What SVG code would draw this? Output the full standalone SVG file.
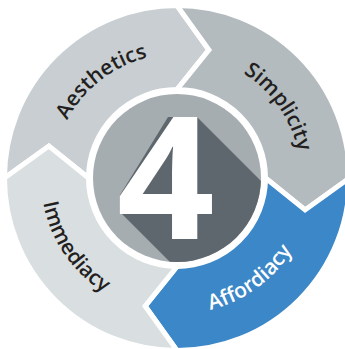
<svg xmlns="http://www.w3.org/2000/svg" width="345" height="349" viewBox="0 0 345 349">
  <style>
    .seg { stroke: #ffffff; stroke-width: 5; stroke-linejoin: miter; stroke-miterlimit: 10; }
    .lbl { font-family: "Open Sans", "Noto Sans", "Liberation Sans", sans-serif; font-size: 21px; font-weight: 600; fill: #231f20; }
    .big { font-family: "Open Sans", "Liberation Sans", sans-serif; font-weight: 700; font-size: 171px; fill: #ffffff; }
  </style>
  <defs>
    <clipPath id="hub"><circle cx="177" cy="178" r="84"/></clipPath>
    <path id="pA" d="M73.0,245.53 A124,124 0 0 1 267.69,93.43"/>
    <path id="pS" d="M115,70.61 A124,124 0 0 1 256.70,272.99"/>
    <path id="pF" d="M74.36,267.23 A136,136 0 0 0 293.58,107.96"/>
    <path id="pI" d="M91.42,72.31 A136,136 0 0 0 242.93,296.95"/>
  </defs>
  <rect width="345" height="349" fill="#ffffff"/>
  <g id="aesthetics">
    <path class="seg" fill="#c8ced1" d="M4.5,178 A172.5,172.5 0 0 1 177,5.5 L208.93,49.92 L177,89.5 A88.5,88.5 0 0 0 88.5,178 L48.92,146.07 Z"/>
    <text class="lbl"><textPath href="#pA" startOffset="50%" text-anchor="middle">Aesthetics</textPath></text>
  </g>
  <g id="simplicity">
    <path class="seg" fill="#b3bbbf" d="M177,5.5 A172.5,172.5 0 0 1 349.5,178 L305.08,209.93 L265.5,178 A88.5,88.5 0 0 0 177,89.5 L208.93,49.92 Z"/>
    <text class="lbl"><textPath href="#pS" startOffset="50%" text-anchor="middle">Simplicity</textPath></text>
  </g>
  <g id="affordiacy">
    <path class="seg" fill="#3b87c7" d="M349.5,178 A172.5,172.5 0 0 1 177,350.5 L145.07,306.08 L177,266.5 A88.5,88.5 0 0 0 265.5,178 L305.08,209.93 Z"/>
    <text class="lbl" style="fill:#ffffff"><textPath href="#pF" startOffset="50%" text-anchor="middle">Affordiacy</textPath></text>
  </g>
  <g id="immediacy">
    <path class="seg" fill="#d9dee0" d="M177,350.5 A172.5,172.5 0 0 1 4.5,178 L48.92,146.07 L88.5,178 A88.5,88.5 0 0 0 177,266.5 L145.07,306.08 Z"/>
    <text class="lbl"><textPath href="#pI" startOffset="50%" text-anchor="middle">Immediacy</textPath></text>
  </g>
  <g id="hub-node">
    <circle cx="177" cy="178" r="84" fill="#a6adb1"/>
    <polygon clip-path="url(#hub)" fill="#5e676d" points="168,117 197,117 397,317 320,412 120,212 120,195"/>
    <text class="big" x="166" y="239" text-anchor="middle">4</text>
  </g>
</svg>
